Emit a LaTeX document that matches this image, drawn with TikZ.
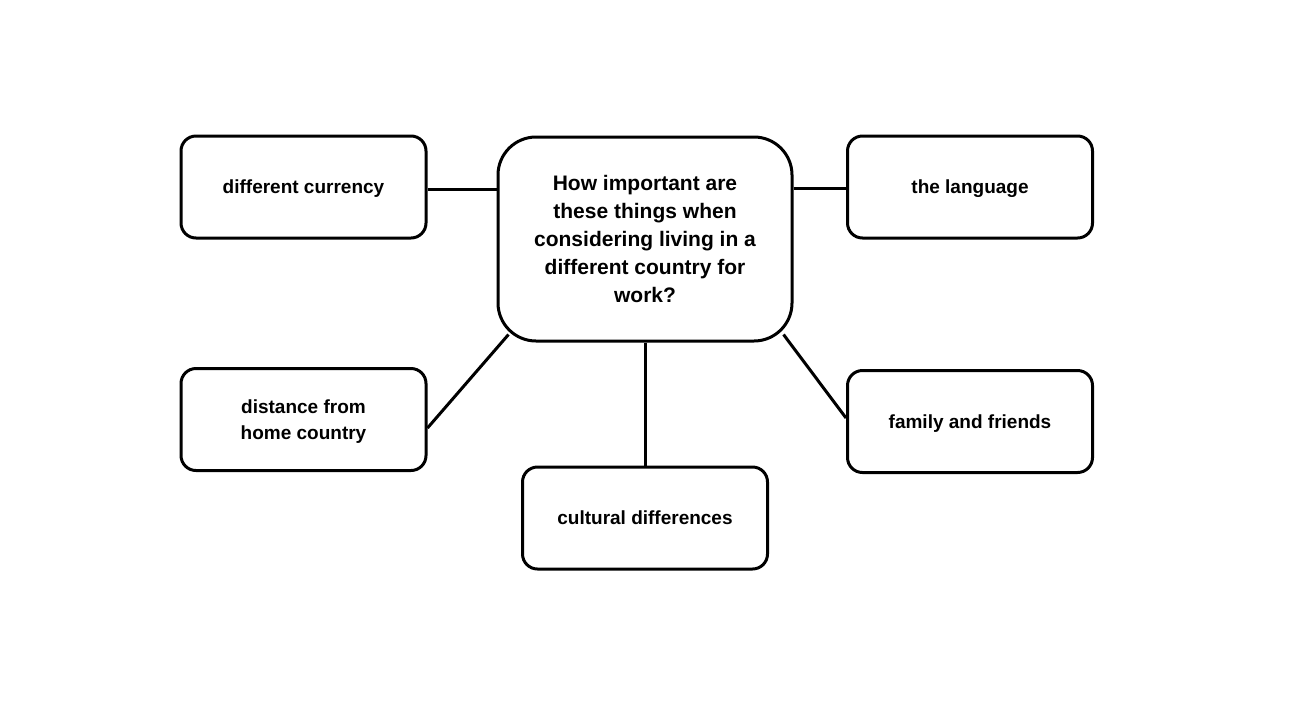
\documentclass[tikz,border=0pt]{standalone}
\usepackage{fontspec}
\setmainfont{Liberation Sans}
\usetikzlibrary{calc}
\tikzset{
  box/.style={draw=black, line width=3pt, rounded corners=15pt, fill=white,
    minimum width=245pt, minimum height=102pt, align=center,
    font=\fontsize{19}{26}\selectfont\bfseries, inner sep=0pt, text depth=-2pt},
  bigbox/.style={draw=black, line width=3pt, rounded corners=38pt, fill=white,
    minimum width=294pt, minimum height=204pt, align=center,
    font=\fontsize{21}{28}\selectfont\bfseries, inner sep=0pt},
  link/.style={draw=black, line width=3pt}
}
\begin{document}
\begin{tikzpicture}[x=1pt,y=-1pt]
\useasboundingbox[fill=white] (0,0) rectangle (1313,705);
\node[bigbox] (q) at (645,239) {How important are\\these things when\\considering living in a\\different country for\\work?};
\node[box] (cur) at (303.5,187) {different currency};
\node[box] (lang) at (970,187) {the language};
\node[box] (dist) at (303.5,419.5) {distance from\\home country};
\node[box] (cult) at (645,518) {cultural differences};
\node[box] (fam) at (970,421.5) {family and friends};
\draw[link] (cur.east |- 0,189) -- (q.west |- 0,189);
\draw[link] (q.east |- 0,188) -- (lang.west |- 0,188);
\draw[link] ($(dist.east)+(0,8.5)$) -- ($(q.south west)+(12,-8)$);
\draw[link] (q.south) -- (cult.north);
\draw[link] ($(fam.west)+(0,-3.5)$) -- ($(q.south east)+(-10,-8)$);
\end{tikzpicture}
\end{document}
